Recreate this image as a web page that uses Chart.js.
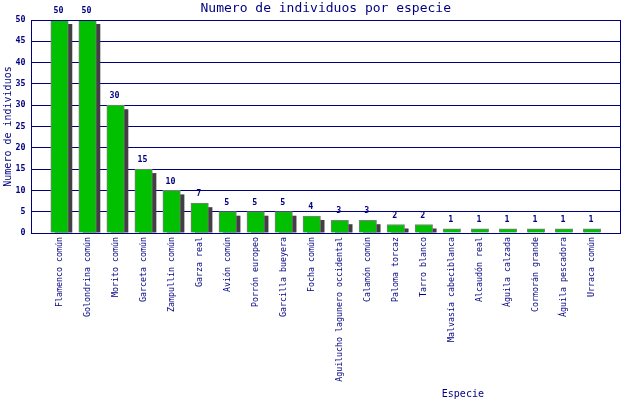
<!DOCTYPE html>
<html lang="es">
<head>
<meta charset="UTF-8">
<title>Numero de individuos por especie</title>
<script src="https://cdn.jsdelivr.net/npm/chart.js"></script>
<style>
    body { margin: 0; background: #ffffff; }
    canvas { display: block; }
</style>
</head>
<body>
<canvas id="chart" width="640" height="400"></canvas>
<script>
// datos
const especies = [
    'Flamenco común', 'Golondrina común', 'Morito común', 'Garceta común',
    'Zampullín común', 'Garza real', 'Avión común', 'Porrón europeo',
    'Garcilla bueyera', 'Focha común', 'Aguilucho lagunero occidental',
    'Calamón común', 'Paloma torcaz', 'Tarro blanco', 'Malvasía cabeciblanca',
    'Alcaudón real', 'Águila calzada', 'Cormorán grande', 'Águila pescadora',
    'Urraca común'
];
const individuos = [50, 50, 30, 15, 10, 7, 5, 5, 5, 4, 3, 3, 2, 2, 1, 1, 1, 1, 1, 1];
const yTicks = [0, 5, 10, 15, 20, 25, 30, 35, 40, 45, 50];

const navy = '#000080';
const mono = 'DejaVu Sans Mono';

// sombra gris detras de cada barra
const sombra = {
    id: 'sombra',
    beforeDatasetsDraw(chart) {
        const ctx = chart.ctx;
        ctx.save();
        ctx.fillStyle = '#404040';
        chart.getDatasetMeta(0).data.forEach(bar => {
            const { x, y, base, width } = bar.getProps(['x', 'y', 'base', 'width'], true);
            const h = base - y - 4;
            if (h > 0) ctx.fillRect(x - width / 2 + 4, y + 4, width, h);
        });
        ctx.restore();
    }
};

// valores encima de las barras, marco y titulo del eje x
const extras = {
    id: 'extras',
    afterDatasetsDraw(chart) {
        const ctx = chart.ctx;
        ctx.save();
        ctx.fillStyle = navy;
        ctx.font = 'bold 8.3px "' + mono + '"';
        ctx.textAlign = 'center';
        ctx.textBaseline = 'middle';
        chart.getDatasetMeta(0).data.forEach((bar, i) => {
            ctx.fillText(String(individuos[i]), bar.x - 1, bar.y - 9);
        });
        ctx.restore();
    },
    afterDraw(chart) {
        const ctx = chart.ctx;
        const a = chart.chartArea;
        ctx.save();
        ctx.strokeStyle = navy;
        ctx.lineWidth = 1;
        ctx.strokeRect(Math.round(a.left) - 0.5, Math.round(a.top) + 0.5,
            Math.round(a.right - a.left), Math.round(a.bottom - a.top));
        ctx.fillStyle = navy;
        ctx.font = '10px "' + mono + '"';
        ctx.textAlign = 'center';
        ctx.textBaseline = 'middle';
        ctx.fillText('Especie', a.left + (a.right - a.left) * 0.733, 394);
        ctx.restore();
    }
};

new Chart(document.getElementById('chart'), {
    type: 'bar',
    data: {
        datasets: [{
            data: individuos.map((v, i) => ({ x: i, y: v })),
            backgroundColor: '#00c000',
            borderColor: '#808080',
            borderWidth: 1,
            borderSkipped: 'bottom',
            barThickness: 17.5
        }]
    },
    options: {
        responsive: false,
        animation: false,
        layout: { padding: { right: 20, left: 0, top: 0, bottom: 0 } },
        plugins: {
            legend: { display: false },
            tooltip: { enabled: false },
            title: {
                display: true,
                fullSize: false,
                text: 'Numero de individuos por especie',
                color: navy,
                font: { family: mono, size: 13, weight: 'normal' },
                padding: { top: 1, bottom: 3.4 }
            }
        },
        scales: {
            x: {
                type: 'linear',
                min: -1,
                max: 20,
                offset: false,
                grid: { display: false, drawTicks: false, offset: false },
                border: { display: true, color: navy, width: 1 },
                ticks: {
                    stepSize: 1,
                    autoSkip: false,
                    minRotation: 90,
                    maxRotation: 90,
                    padding: 4,
                    color: navy,
                    font: { family: mono, size: 8.3 },
                    callback: v => especies[v] !== undefined ? especies[v] : ''
                },
                afterFit: s => { s.height = 167; }
            },
            y: {
                min: 0,
                max: 50,
                grid: { color: navy, lineWidth: 1, drawTicks: false },
                border: { display: true, color: navy, width: 1 },
                afterBuildTicks: s => { s.ticks = yTicks.map(v => ({ value: v })); },
                ticks: {
                    padding: 6,
                    color: navy,
                    font: { family: mono, size: 8.3, weight: 'bold' }
                },
                title: {
                    display: true,
                    text: 'Numero de individuos',
                    color: navy,
                    font: { family: mono, size: 10 },
                    padding: { top: 2, bottom: 0 }
                },
                afterFit: s => { s.width = 31.5; }
            }
        }
    },
    plugins: [sombra, extras]
});
</script>
</body>
</html>
